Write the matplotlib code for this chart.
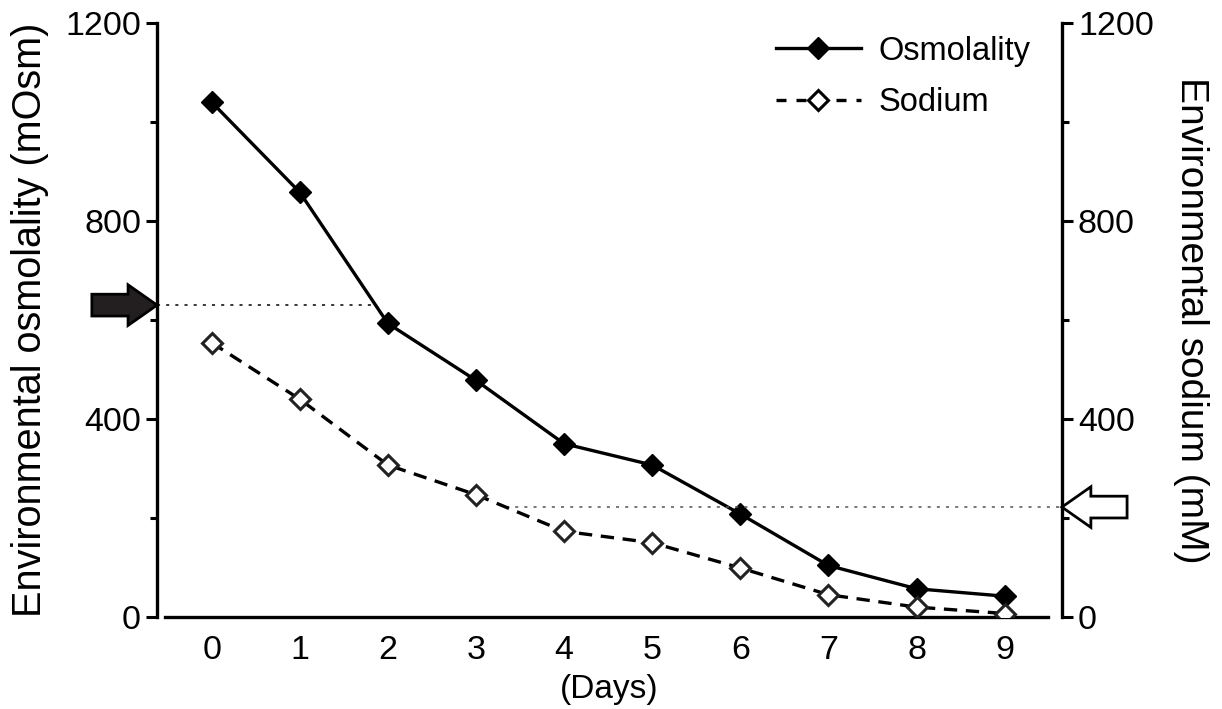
import numpy as np
import matplotlib
matplotlib.use("Agg")
import matplotlib.pyplot as plt
from matplotlib.patches import Polygon
from matplotlib.lines import Line2D

plt.rcParams['font.family'] = ['Liberation Sans', 'DejaVu Sans']

days = [0, 1, 2, 3, 4, 5, 6, 7, 8, 9]
osmolality = [1040, 858, 593, 478, 350, 307, 208, 104, 57, 42]
sodium = [554, 440, 307, 247, 173, 150, 99, 45, 20, 7]
osm_threshold = 630
na_threshold = 222
yticks = [0, 400, 800, 1200]
yminor = [200, 600, 1000]

fig = plt.figure(figsize=(12.22, 7.09), dpi=100)
ax = fig.add_axes([0.1285, 0.1298, 0.869 - 0.1285, 0.9676 - 0.1298])
ax2 = ax.twinx()

tfs = 24.5
lfs = 28.5
ax.plot(days, osmolality, '-', color='black', lw=2.4, marker='D', ms=11,
        mfc='black', mec='black', label='Osmolality', zorder=3)
ax2.plot(days, sodium, '--', color='black', lw=2.4, marker='D', ms=10,
         mfc='white', mec='#222222', mew=2.2, dashes=(4, 2.6), label='Sodium', zorder=3)

for a in (ax, ax2):
    a.set_ylim(0, 1200)
    a.set_xlim(-0.62, 9.65)
    a.set_yticks(yticks)
    a.set_yticks(yminor, minor=True)
    a.spines['top'].set_visible(False)
    a.tick_params(axis='y', which='major', length=8, width=2.2, labelsize=tfs, direction='out')
    a.tick_params(axis='y', which='minor', length=5, width=2.2, direction='out')
    for s in ('left', 'right', 'bottom'):
        a.spines[s].set_linewidth(2.4)

ax.spines['right'].set_visible(False)
ax2.spines['left'].set_visible(False)
ax2.spines['bottom'].set_visible(False)
ax.spines['bottom'].set_bounds(-0.53, 9.49)
ax.set_xticks(days)
ax.tick_params(axis='x', length=0, labelsize=tfs, pad=13)
ax.set_xlabel('(Days)', fontsize=24, labelpad=6)
ax.set_ylabel('Environmental osmolality (mOsm)', fontsize=lfs, labelpad=12)
ax2.set_ylabel('Environmental sodium (mM)', fontsize=28, rotation=-90, labelpad=40)

# threshold dotted lines, ending where the curves cross
x_osm = np.interp(-osm_threshold, -np.array(osmolality), days)
x_na = np.interp(-na_threshold, -np.array(sodium), days)
ax.plot([-0.62, x_osm], [osm_threshold, osm_threshold], color='black', lw=1.1,
        dashes=(2, 4), zorder=2)
ax2.plot([x_na, 9.65], [na_threshold, na_threshold], color='#555555', lw=1.1,
         dashes=(2, 4), zorder=2)

# arrows (axes-x / data-y blended coordinates)
def arrow(a, y, tip_x, direction, fc):
    L = 0.072 * direction
    head = 0.032 * direction
    hh = 41
    sh = 22
    tip = tip_x
    pts = [(tip, y), (tip - head, y + hh), (tip - head, y + sh), (tip - L, y + sh),
           (tip - L, y - sh), (tip - head, y - sh), (tip - head, y - hh)]
    p = Polygon(pts, closed=True, transform=a.get_yaxis_transform(), clip_on=False,
                fc=fc, ec='black', lw=2, zorder=5)
    a.add_patch(p)

arrow(ax, osm_threshold, 0.0, 1, '#231f20')
arrow(ax2, na_threshold, 1.0, -1, 'white')

handles = [Line2D([], [], color='black', lw=2.4, marker='D', ms=11, mfc='black'),
           Line2D([], [], color='black', lw=2.4, ls='--', dashes=(3, 3), marker='D', ms=10,
                  mfc='white', mec='black', mew=2.2)]
leg = ax2.legend(handles, ['Osmolality', 'Sodium'], loc='upper right', frameon=False,
                 fontsize=23.5, handlelength=2.6, bbox_to_anchor=(0.998, 1.028),
                 labelspacing=0.62, handletextpad=0.55)

fig.savefig('out.png', dpi=100)
